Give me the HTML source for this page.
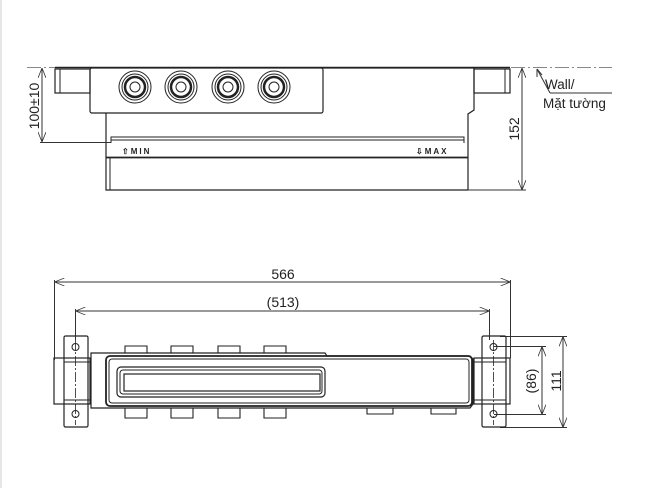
<!DOCTYPE html>
<html><head><meta charset="utf-8"><style>
html,body{margin:0;padding:0;background:#fff;}
svg{display:block;font-family:"Liberation Sans",sans-serif;}
</style></head><body>
<svg width="647" height="488" viewBox="0 0 647 488" xmlns="http://www.w3.org/2000/svg">
<defs>
<marker id="a" markerWidth="10" markerHeight="8" refX="10" refY="4" orient="auto-start-reverse" markerUnits="userSpaceOnUse"><path d="M0,0 L10,4 L0,8" fill="none" stroke="#333" stroke-width="0.8"/></marker>
</defs>
<line x1="1" y1="0" x2="1" y2="488" stroke="#ccc" stroke-width="1"/>
<g fill="none" stroke="#222" stroke-width="1">
<line x1="27" y1="67.5" x2="612" y2="67.5" stroke="#888" stroke-dasharray="14,3,2,3"/>
<line x1="55" y1="67.5" x2="510" y2="67.5" stroke="#222" stroke-width="1.6"/>
<rect x="55" y="69" width="35" height="24" stroke-width="1.2"/>
<line x1="60" y1="69" x2="60" y2="93"/>
<rect x="90" y="68" width="233" height="45" rx="2" stroke-width="1.2"/>
<path d="M323,68 L474,68 L474,110 L468,114 L468,190" stroke-width="1.2"/>
<rect x="474" y="69" width="36" height="24" stroke-width="1.2"/>
<line x1="505" y1="69" x2="505" y2="93"/>
<path d="M106,113 L106,190 L468,190" stroke-width="1.2"/>
<line x1="110" y1="158" x2="110" y2="190"/>
<path d="M111,143 L111,137 L464,137 L464,143" />
<line x1="111" y1="140" x2="464" y2="140"/>
<line x1="106" y1="157.5" x2="468" y2="157.5" stroke-width="1.8"/>
<g stroke-width="1">
<circle cx="135" cy="87" r="16"/><circle cx="135" cy="87" r="13"/><circle cx="135" cy="87" r="10" stroke-width="2.5"/><circle cx="135" cy="87" r="5"/>
<circle cx="181" cy="87" r="16"/><circle cx="181" cy="87" r="13"/><circle cx="181" cy="87" r="10" stroke-width="2.5"/><circle cx="181" cy="87" r="5"/>
<circle cx="228" cy="87" r="16"/><circle cx="228" cy="87" r="13"/><circle cx="228" cy="87" r="10" stroke-width="2.5"/><circle cx="228" cy="87" r="5"/>
<circle cx="274" cy="87" r="16"/><circle cx="274" cy="87" r="13"/><circle cx="274" cy="87" r="10" stroke-width="2.5"/><circle cx="274" cy="87" r="5"/>
</g>
<line x1="42" y1="68" x2="42" y2="142" stroke="#333" marker-start="url(#a)" marker-end="url(#a)"/>
<line x1="40" y1="142.5" x2="111" y2="142.5" stroke="#333"/>
<line x1="522" y1="68" x2="522" y2="190" stroke="#333" marker-start="url(#a)" marker-end="url(#a)"/>
<line x1="468" y1="190" x2="526" y2="190" stroke="#333"/>
<line x1="537" y1="69" x2="550" y2="93" stroke="#333"/>
<path d="M537,69 L537,77 M537,69 L542,75" stroke="#333"/>
<line x1="550" y1="93" x2="612" y2="93" stroke="#333"/>
<line x1="54.5" y1="282" x2="510.5" y2="282" stroke="#333" marker-start="url(#a)" marker-end="url(#a)"/>
<line x1="54.5" y1="280" x2="54.5" y2="360" stroke="#333"/>
<line x1="510.5" y1="280" x2="510.5" y2="358" stroke="#333"/>
<line x1="75.5" y1="311" x2="489.5" y2="311" stroke="#333" marker-start="url(#a)" marker-end="url(#a)"/>
<line x1="75.5" y1="309" x2="75.5" y2="340" stroke="#333"/>
<line x1="489.5" y1="309" x2="489.5" y2="340" stroke="#333"/>
<line x1="542" y1="346.5" x2="542" y2="414.5" stroke="#333" marker-start="url(#a)" marker-end="url(#a)"/>
<line x1="494" y1="346.5" x2="546" y2="346.5" stroke="#333"/>
<line x1="494" y1="414.5" x2="546" y2="414.5" stroke="#333"/>
<line x1="563" y1="336.5" x2="563" y2="427.5" stroke="#333" marker-start="url(#a)" marker-end="url(#a)"/>
<line x1="500" y1="336.5" x2="567" y2="336.5" stroke="#333"/>
<line x1="500" y1="427.5" x2="567" y2="427.5" stroke="#333"/>
<rect x="64" y="336" width="24" height="91" rx="1.5" stroke-width="1.2"/>
<rect x="54" y="358" width="36" height="46" stroke-width="1.2"/>
<line x1="64" y1="362" x2="90" y2="362"/><line x1="64" y1="400" x2="90" y2="400"/>
<line x1="75.5" y1="340" x2="75.5" y2="425" stroke-dasharray="10,2,2,2" stroke-width="0.8"/>
<circle cx="75.5" cy="347" r="3.5"/><circle cx="75.5" cy="414" r="3.5"/>
<rect x="482" y="336" width="24" height="91" rx="1.5" stroke-width="1.2"/>
<rect x="474" y="358" width="36" height="46" stroke-width="1.2"/>
<line x1="474" y1="362" x2="506" y2="362"/><line x1="474" y1="400" x2="506" y2="400"/>
<line x1="493.5" y1="340" x2="493.5" y2="425" stroke-dasharray="10,2,2,2" stroke-width="0.8"/>
<circle cx="493.5" cy="347" r="3.5"/><circle cx="493.5" cy="414" r="3.5"/>
<path d="M91,353 L325,353 L327,356 L470,356 L473,359 L473,404 L470,408 L91,408 Z" stroke-width="1.2"/>
<rect x="106" y="356" width="366" height="50" rx="4" stroke-width="1.8"/>
<rect x="109" y="359" width="360" height="44" rx="3"/>
<rect x="117" y="367" width="208" height="30" rx="4" stroke-width="1.2"/>
<rect x="120" y="370" width="202" height="24" rx="3"/>
<rect x="124" y="374" width="196" height="17" stroke-width="1.2"/>
<g stroke-width="1.1">
<path d="M125,353 L125,346 L147,346 L147,353"/><path d="M171,353 L171,346 L193,346 L193,353"/><path d="M218,353 L218,346 L240,346 L240,353"/><path d="M264,353 L264,346 L286,346 L286,353"/>
<path d="M125,408 L125,418 L147,418 L147,408"/><path d="M171,408 L171,418 L193,418 L193,408"/><path d="M218,408 L218,418 L240,418 L240,408"/><path d="M264,408 L264,418 L286,418 L286,408"/>
<path d="M367,408 L367,414 L393,414 L393,408"/><path d="M431,408 L431,414 L456,414 L456,408"/>
</g>
</g>
<g fill="#222">
<text x="122" y="154" font-size="8" font-weight="bold" letter-spacing="2">⇧MIN</text>
<text x="416" y="154" font-size="8" font-weight="bold" letter-spacing="2">⇩MAX</text>
<text transform="translate(39,106) rotate(-90)" text-anchor="middle" font-size="14">100±10</text>
<text transform="translate(519,129) rotate(-90)" text-anchor="middle" font-size="14">152</text>
<text x="545" y="89" font-size="13.5">Wall/</text>
<text x="543" y="108" font-size="13.5">Mặt tường</text>
<text x="283" y="279" text-anchor="middle" font-size="14">566</text>
<text x="283" y="307" text-anchor="middle" font-size="14">(513)</text>
<text transform="translate(536,381) rotate(-90)" text-anchor="middle" font-size="14">(86)</text>
<text transform="translate(561,381) rotate(-90)" text-anchor="middle" font-size="14">111</text>
</g>
</svg>
</body></html>
